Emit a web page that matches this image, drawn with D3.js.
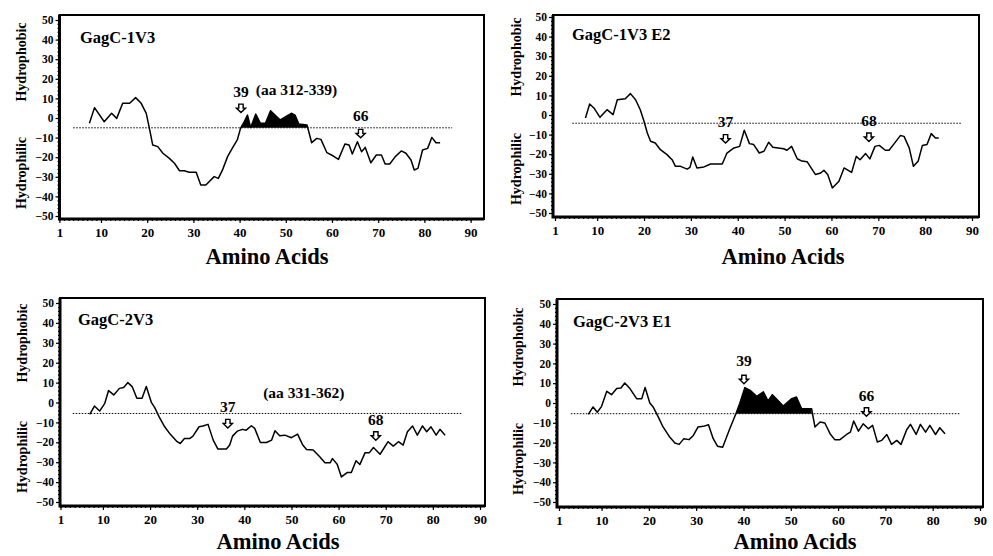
<!DOCTYPE html>
<html>
<head>
<meta charset="utf-8">
<script src="https://cdn.jsdelivr.net/npm/d3@7/dist/d3.min.js"></script>
<style>
  body { margin: 0; background: #fff; }
  svg text { font-family: "Liberation Serif", "Times New Roman", serif; font-weight: bold; fill: #000; }
</style>
</head>
<body>
<script>
'use strict';

// tick labels
const xTicks = [1, 10, 20, 30, 40, 50, 60, 70, 80, 90];
const yTicks = [-50, -40, -30, -20, -10, 0, 10, 20, 30, 40, 50];

// panel titles
const titles = ["GagC-1V3", "GagC-1V3 E2", "GagC-2V3", "GagC-2V3 E1"];

// GagC-1V3 hydropathy profile (position, value)
const pos1 = [7.5,8.6,10.7,12.3,13.4,14.7,16.2,17.5,18.7,19.8,20.7,21.2,22.3,23.4,24.8,25.9,27,28,29.1,30.6,31.6,32.7,34.5,35.4,36.3,37.4,38.4,39.5,40.2,40.9,41.7,42.4,43.5,44.5,45.6,46.7,48.8,51.2,52,52.8,54.6,55.6,56.7,57.6,58.9,60.3,61.4,62.8,63.7,64.4,65.5,66.4,67.2,68.4,69.6,70.7,71.5,72.5,73.7,75,76,77.1,77.8,78.6,79.6,80.7,81.6,82.5,83.4];
const val1 = [-2.7,5.3,-1.9,2.4,-0.2,7.5,7.5,10.4,7.5,2.4,-7.8,-13.8,-14.6,-18,-20.6,-23.1,-26.9,-26.9,-27.7,-27.7,-34.2,-34.2,-29.9,-30.8,-26.5,-19.7,-15.5,-11.2,-5.3,-2.4,1.5,-4.9,2,-2.7,-2.7,3.7,-1,2.4,1.5,-3,-3.6,-12.6,-10.4,-10.9,-17.7,-19.4,-21.1,-13.3,-13.8,-18.4,-12.1,-17.2,-15,-22.8,-18.9,-18.9,-23.5,-23.5,-19.7,-16.8,-18,-21.4,-26.5,-25.7,-16.3,-15.5,-9.9,-12.6,-12.6];

// GagC-1V3 E2
const pos2 = [7.5,8.4,9.3,10.6,12.1,13.4,14.3,16,17.1,18.2,19.2,20,20.7,21.4,22.4,23.5,24.9,26,26.7,27.8,29.2,29.8,30.4,31.3,32.8,34.2,36.7,37.7,39.2,40.4,41.4,42.5,43.4,44.6,45.6,46.6,47.5,49.8,50.5,51.5,52.7,53.7,54.8,55.9,56.6,57.7,58.4,59.2,60.2,61.6,62.7,64.3,65.3,66.1,67.3,68.2,69.3,70.2,71.5,72.3,73.4,74.7,75.5,76.6,77.5,78.5,79.4,80.4,81.3,82.2,82.9];
const val2 = [-1.5,5.6,3.6,-1.2,2.7,0.2,7.8,8.3,10.9,7.8,2.7,-3.2,-9.2,-13.4,-14.3,-17.7,-20.2,-22.8,-26.2,-26.2,-27.6,-26.7,-21.4,-27,-26.5,-25,-25,-19.4,-16.8,-16,-7.8,-14.6,-15.1,-19.4,-18.5,-13.9,-16.5,-17.2,-18,-16,-22.3,-23.5,-23.8,-27.9,-30.4,-29.6,-28.2,-30.4,-37.2,-33.8,-27,-29.3,-21.1,-22.8,-19.7,-22.4,-16,-15.5,-18,-18,-14.6,-10.5,-10.9,-16.8,-26.2,-23.6,-15.6,-15.1,-9.5,-11.7,-11.7];

// GagC-2V3
const pos3 = [7.2,8.2,9.3,10.4,11.2,12.3,13.5,14.4,15.3,16.2,17.2,18.3,19.2,20.3,21,21.9,23.1,24.3,25.6,26.4,27.3,28.4,29.1,30.4,31.2,32.3,33.4,34.4,36.2,36.9,37.5,38.5,39.6,40.4,41.5,42.2,43.4,44.7,45.8,46.5,47.5,48.6,50,51.3,52.4,53.2,54.6,56,57.1,58.2,58.7,59.7,60.6,61.8,62.7,63.7,64.5,65.6,66.5,67.4,68.8,70.5,71.6,72.7,73.7,74.6,75.7,76.7,77.8,78.7,79.6,80.7,81.5,82.6];
const val3 = [-6,-1.8,-4.3,-0.4,6,3.8,7.1,7.5,10,8,2.1,2.1,8,-0.1,-2.6,-7.1,-12.2,-16,-19.4,-20.6,-18.1,-18.1,-16.9,-12.2,-11.8,-11,-18.9,-23.4,-23.4,-21.4,-16.9,-14.4,-13.5,-13.9,-11.7,-13,-20.1,-20.1,-18.9,-14.2,-16.7,-16.4,-17.7,-15.9,-21.4,-23.6,-23.9,-27.3,-30.3,-30.3,-28.2,-31,-37.4,-35.2,-35.2,-29.3,-31.2,-25.3,-25.3,-22.6,-26,-19.7,-21.9,-19.7,-21.4,-14.7,-11.8,-16.4,-11.8,-14.7,-12.2,-16.4,-13.5,-16.4];

// GagC-2V3 E1
const pos4 = [7.2,8.2,9.1,10,11.1,12.1,13.2,14.1,14.9,16,17.4,18.5,19.2,20.2,20.9,22,23,24.4,25.5,26.4,27.4,28.5,29.4,30.4,31.5,32.6,33.6,34.5,35.6,37.1,38.4,39.2,40.3,41.4,42.8,44.2,45.2,46.1,47.3,48.4,50.2,51.2,52.3,54.4,55.1,56.2,57.2,58.3,59.3,60.4,61.8,62.6,63.3,64.3,65.3,66.4,67.3,68.3,69.2,70.3,71.3,72.4,73.3,74.5,75.3,76.5,77.4,78.5,79.4,80.6,81.5,82.6];
const val4 = [-5.7,-2,-4.7,-1.7,5.9,4.2,7.3,7.6,10.1,7.3,2.2,2.2,7.8,0,-2,-7.1,-12.1,-17.2,-20.2,-20.9,-18,-18.5,-16.4,-12.1,-11.8,-11,-18,-21.8,-22.3,-13,-5.4,-0.3,7.8,6.4,3.4,5.6,1,4.2,1.3,-1.5,2.2,3,-2.9,-2.9,-12.1,-9.6,-10.1,-15.5,-18.5,-18.5,-15.9,-14.7,-9.1,-14.2,-10.5,-13,-11.3,-19.7,-18.9,-15.9,-20.9,-18.9,-20.9,-13.5,-10.8,-15.9,-10.8,-14.7,-11.3,-15.9,-12.5,-15.5];

// dotted reference level per panel and its extent
const baseLevels = [-5, -4.2, -5.5, -5.4];
const baseExtents = [[4, 86], [4.7, 87.6], [3.6, 86.1], [3.5, 85.8]];

// shaded (hydrophobic) stretch per panel, null = none
const fillRanges = [[40.2, 54.7], null, null, [38.4, 54.5]];

// arrow markers: position, top of arrow, label, label baseline (data units)
const markers1 = [{ pos: 40.3, top: 7.1, label: "39", labY: 10.9 }, { pos: 66.2, top: -5.8, label: "66", labY: -1.4 }];
const markers2 = [{ pos: 37.4, top: -10, label: "37", labY: -6.3 }, { pos: 68, top: -9.2, label: "68", labY: -5.4 }];
const markers3 = [{ pos: 36.5, top: -8.5, label: "37", labY: -4.6 }, { pos: 67.9, top: -14.7, label: "68", labY: -11.3 }];
const markers4 = [{ pos: 40.1, top: 14, label: "39", labY: 18.5 }, { pos: 66, top: -2.4, label: "66", labY: 1 }];

// region notes (text, start position, baseline value)
const notes = [{ text: "(aa 312-339)", pos: 43.5, val: 11.7 }, null, { text: "(aa 331-362)", pos: 44, val: 2.1 }, null];

(function() {
  const svg = d3.select('body')
    .append('svg')
    .attr('width', 993)
    .attr('height', 556);

  // pixel layout of each panel
  const layout = [
    { xr: [59.4, 470.6], yr: [216, 20], box: [59.5, 15, 484, 219], title: [80, 43], xlab: [267, 264], phob: [21, 62], phil: [21, 173] },
    { xr: [555, 972], yr: [213, 17], box: [553, 15, 979, 217], title: [572, 40], xlab: [783, 264], phob: [516, 57], phil: [516, 169] },
    { xr: [60.5, 480], yr: [502, 303], box: [60, 298, 485, 506], title: [78, 325], xlab: [278, 549], phob: [22, 343], phil: [22, 457] },
    { xr: [559, 980], yr: [502, 304], box: [557, 299, 983, 507], title: [573, 327], xlab: [795, 549], phob: [518, 347], phil: [518, 459] }
  ];

  const series = [[pos1, val1], [pos2, val2], [pos3, val3], [pos4, val4]];
  const markers = [markers1, markers2, markers3, markers4];

  layout.forEach((L, i) => drawPanel(L, i));

  function drawPanel(L, i) {
    const g = svg.append('g');
    const x = d3.scaleLinear().domain([1, 90]).range(L.xr);
    const y = d3.scaleLinear().domain([-50, 50]).range(L.yr);
    const [bx0, by0, bx1, by1] = L.box;

    // frame
    g.append('rect')
      .attr('x', bx0).attr('y', by0)
      .attr('width', bx1 - bx0).attr('height', by1 - by0)
      .attr('fill', 'none').attr('stroke', '#000').attr('stroke-width', 2);

    // y axis (major + minor ticks)
    const yAxis = g.append('g')
      .attr('transform', `translate(${bx0}, 0)`)
      .call(d3.axisLeft(y).tickValues(yTicks).tickSize(4).tickPadding(2).tickFormat(d3.format('d')));
    yAxis.select('.domain').remove();
    yAxis.selectAll('text').style('font-size', '11.5px').style('font-family', null);
    const yMinor = g.append('g')
      .attr('transform', `translate(${bx0}, 0)`)
      .call(d3.axisLeft(y).tickValues(d3.range(-50, 51, 2)).tickSize(2).tickFormat(''));
    yMinor.select('.domain').remove();

    // x axis (major + minor ticks)
    const xAxis = g.append('g')
      .attr('transform', `translate(0, ${by1})`)
      .call(d3.axisBottom(x).tickValues(xTicks).tickSize(4).tickPadding(5));
    xAxis.select('.domain').remove();
    xAxis.selectAll('text').style('font-size', '13px').style('font-family', null);
    const xMinor = g.append('g')
      .attr('transform', `translate(0, ${by1})`)
      .call(d3.axisBottom(x).tickValues(d3.range(1, 91, 1)).tickSize(2).tickFormat(''));
    xMinor.select('.domain').remove();
    g.selectAll('.tick line').attr('stroke-width', 1.2);

    // heavier left and bottom edges
    g.append('path')
      .attr('d', `M${bx0},${by0} L${bx0},${by1} L${bx1},${by1}`)
      .attr('fill', 'none').attr('stroke', '#000').attr('stroke-width', 3);

    // dotted reference line
    const base = baseLevels[i];
    g.append('line')
      .attr('x1', x(baseExtents[i][0])).attr('x2', x(baseExtents[i][1]))
      .attr('y1', y(base)).attr('y2', y(base))
      .attr('stroke', '#000').attr('stroke-width', 1)
      .attr('stroke-dasharray', '1.5,1.5');

    const pts = series[i][0].map((p, k) => [p, series[i][1][k]]);

    // filled hydrophobic stretch
    if (fillRanges[i]) {
      const fr = fillRanges[i];
      const sub = pts.filter(d => d[0] >= fr[0] && d[0] <= fr[1]);
      g.append('path')
        .datum(sub)
        .attr('fill', '#000')
        .attr('d', d3.area()
          .x(d => x(d[0]))
          .y0(y(base))
          .y1(d => y(Math.max(d[1], base))));
    }

    // profile line
    g.append('path')
      .datum(pts)
      .attr('fill', 'none')
      .attr('stroke', '#000')
      .attr('stroke-width', 1.5)
      .attr('stroke-linejoin', 'round')
      .attr('d', d3.line().x(d => x(d[0])).y(d => y(d[1])));

    // arrows + labels
    markers[i].forEach(m => {
      const cx = x(m.pos), t = y(m.top);
      g.append('path')
        .attr('d', `M${cx - 2.2},${t} L${cx + 2.2},${t} L${cx + 2.2},${t + 4} L${cx + 4.6},${t + 4} L${cx},${t + 8.5} L${cx - 4.6},${t + 4} L${cx - 2.2},${t + 4} Z`)
        .attr('fill', '#fff').attr('stroke', '#000').attr('stroke-width', 1.4);
      g.append('text')
        .attr('x', cx).attr('y', y(m.labY))
        .attr('text-anchor', 'middle')
        .style('font-size', '15.5px')
        .text(m.label);
    });

    if (notes[i]) {
      g.append('text')
        .attr('x', x(notes[i].pos)).attr('y', y(notes[i].val))
        .style('font-size', '15.5px')
        .text(notes[i].text);
    }

    // title and axis labels
    g.append('text')
      .attr('x', L.title[0]).attr('y', L.title[1])
      .style('font-size', '16.5px')
      .text(titles[i]);

    g.append('text')
      .attr('x', L.xlab[0]).attr('y', L.xlab[1])
      .attr('text-anchor', 'middle')
      .style('font-size', '22.5px')
      .text('Amino Acids');

    g.append('text')
      .attr('transform', `translate(${L.phob[0] + 5}, ${L.phob[1]})rotate(-90)`)
      .attr('text-anchor', 'middle')
      .style('font-size', '14px')
      .text('Hydrophobic');

    g.append('text')
      .attr('transform', `translate(${L.phil[0] + 5}, ${L.phil[1]})rotate(-90)`)
      .attr('text-anchor', 'middle')
      .style('font-size', '14px')
      .text('Hydrophilic');
  }
})();
</script>
</body>
</html>
